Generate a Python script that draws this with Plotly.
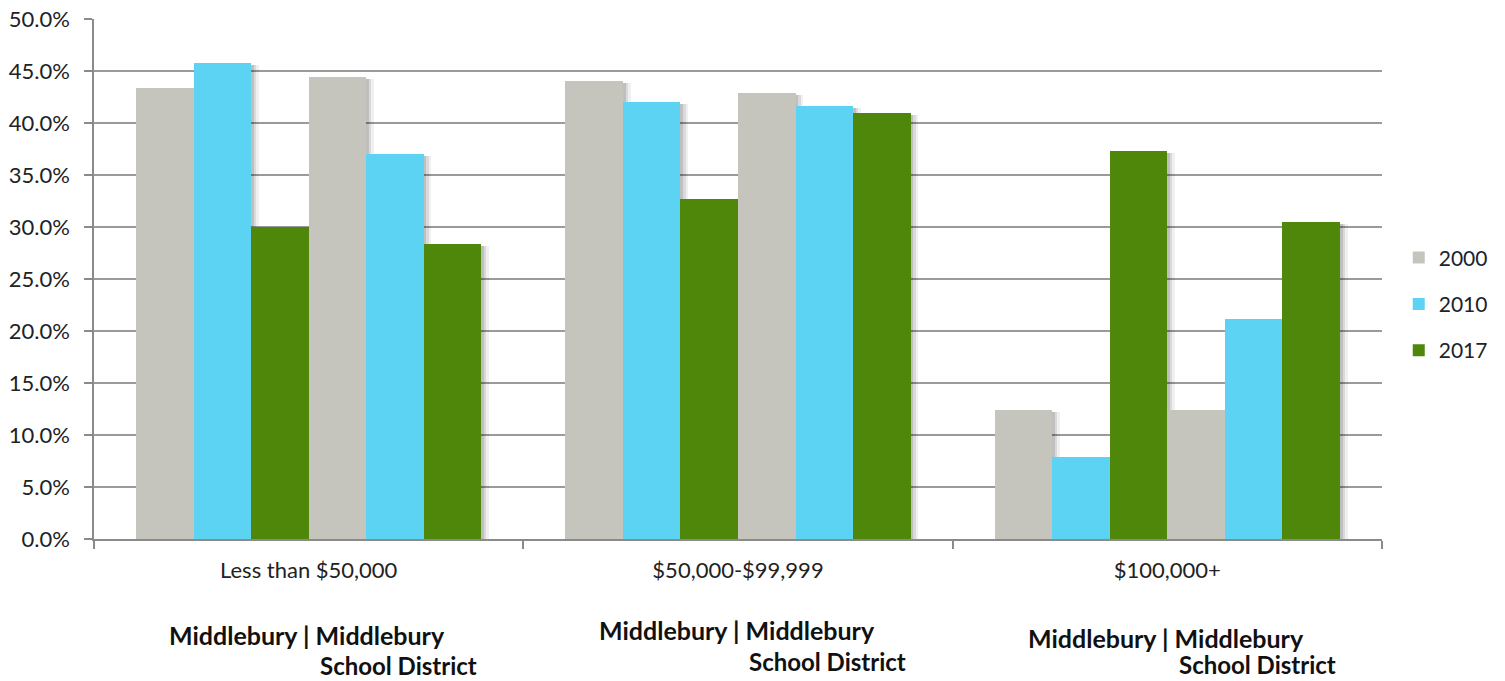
import plotly.graph_objects as go

categories = ["Less than $50,000", "$50,000-$99,999", "$100,000+"]
years = ["2000", "2010", "2017"]
# Middlebury
mid_2000 = [0.434, 0.440, 0.124]
mid_2010 = [0.458, 0.420, 0.079]
mid_2017 = [0.300, 0.327, 0.373]
# Middlebury School District
msd_2000 = [0.444, 0.429, 0.124]
msd_2010 = [0.370, 0.416, 0.212]
msd_2017 = [0.284, 0.410, 0.305]

colors = {"2000": "#C5C5BD", "2010": "#5CD3F3", "2017": "#4E8709"}

series = [
    ("2000", mid_2000, True),
    ("2010", mid_2010, True),
    ("2017", mid_2017, True),
    ("2000", msd_2000, False),
    ("2010", msd_2010, False),
    ("2017", msd_2017, False),
]

bar_w = 0.134
start = -3 * bar_w
fig = go.Figure()

# soft drop shadows first
for i, (yr, vals, _) in enumerate(series):
    for k, (dx, alpha) in enumerate([(0.018, 0.06), (0.012, 0.09), (0.006, 0.12)]):
        fig.add_trace(go.Bar(
            x=categories, y=[v - 0.002 for v in vals], width=bar_w,
            offset=start + i * bar_w + dx,
            marker=dict(color=f"rgba(0,0,0,{alpha})", line=dict(width=0)),
            showlegend=False, hoverinfo="skip",
        ))

for i, (yr, vals, show) in enumerate(series):
    fig.add_trace(go.Bar(
        x=categories, y=vals, width=bar_w, offset=start + i * bar_w,
        name=yr, legendgroup=yr, showlegend=show,
        marker=dict(color=colors[yr], line=dict(width=0)),
    ))

font_family = "Lato, 'Open Sans', sans-serif"
annotations = []
# (category index, line-1 y, line-2 y) in paper coords
label_pos = [(0, -0.185, -0.244), (1, -0.175, -0.235), (2, -0.190, -0.241)]
for ci, y1, y2 in label_pos:
    annotations.append(dict(x=ci - 0.329, y=y1, xref="x", yref="paper",
                            text="<b>Middlebury | Middlebury</b>", showarrow=False,
                            font=dict(size=25, color="#111", family=font_family),
                            xanchor="left", yanchor="middle"))
    annotations.append(dict(x=ci + 0.022, y=y2, xref="x", yref="paper",
                            text="<b>School District</b>", showarrow=False,
                            font=dict(size=24, color="#111", family=font_family),
                            xanchor="left", yanchor="middle"))

fig.update_layout(
    width=1505, height=681,
    margin=dict(l=94, r=123, t=19, b=142, autoexpand=False),
    paper_bgcolor="white", plot_bgcolor="white",
    barmode="overlay",
    font=dict(family=font_family, size=21, color="#222"),
    xaxis=dict(
        type="category", range=[-0.5, 2.5], tickson="boundaries",
        ticks="outside", ticklen=8, tickcolor="#8a8a8a", tickwidth=1.5,
        showline=True, linecolor="#8a8a8a", linewidth=1.5,
        showgrid=False, ticklabelstandoff=11,
        tickfont=dict(size=22, color="#222"),
    ),
    yaxis=dict(
        range=[0, 0.5], dtick=0.05, tickformat=".1%",
        ticks="outside", ticklen=8, tickcolor="#8a8a8a", tickwidth=1.5,
        showline=True, linecolor="#8a8a8a", linewidth=1.5,
        showgrid=True, gridcolor="#9a9a9a", gridwidth=1.5,
        zeroline=False, ticklabelstandoff=10,
        tickfont=dict(size=22, color="#222"),
    ),
    legend=dict(
        x=1.013, y=0.452, xanchor="left", yanchor="middle",
        traceorder="grouped", tracegroupgap=16,
        font=dict(size=21, color="#222"),
    ),
    annotations=annotations,
    bargap=0,
)

fig.write_html("out.html")
